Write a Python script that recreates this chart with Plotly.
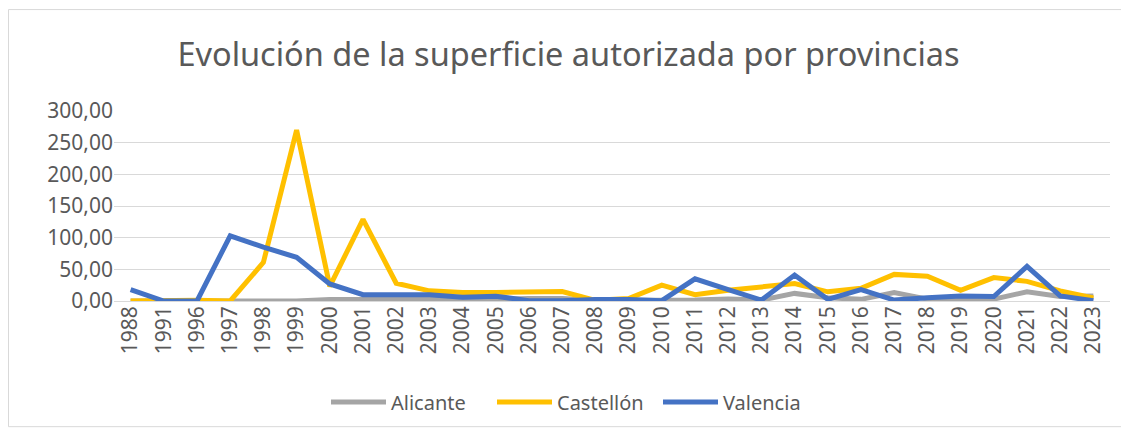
import plotly.graph_objects as go

years = ["1988", "1991", "1996", "1997", "1998", "1999", "2000", "2001", "2002", "2003",
         "2004", "2005", "2006", "2007", "2008", "2009", "2010", "2011", "2012", "2013",
         "2014", "2015", "2016", "2017", "2018", "2019", "2020", "2021", "2022", "2023"]

alicante = [0, 0, 0, 0, 0, 0, 2.5, 2.5, 1.5, 3,
            1.5, 2.5, 4, 4, 1, 1, 0, 1.5, 3, 1.5,
            12, 5, 2.6, 13.5, 3, 3, 3, 14.5, 7, 8]

castellon = [0, 1, 1, 0, 61, 270, 23, 129, 28, 16,
             13.5, 13.5, 15, 15, 1, 4, 25, 10, 17, 23,
             27.5, 14.5, 20, 42, 39, 17, 37, 31, 16, 5]

valencia = [18, 0, 0, 103, 85, 69, 27, 10, 10, 10,
            6, 7.5, 0.5, 0.5, 2.5, 2.5, 0.5, 35, 18, 1.5,
            41, 2.6, 18, 1.5, 5, 8, 7, 54.5, 8, 0.5]

series = [("Alicante", alicante, "#A5A5A5"),
          ("Castellón", castellon, "#FFC000"),
          ("Valencia", valencia, "#4472C4")]

FONT = "Noto Sans"
TXT = "#595959"

# page body has an 8px default margin; figure sized to fill the rest
W, H = 1121, 426
L, R, T, B = 106, 19, 103, 131
PW, PH = W - L - R, H - T - B

fig = go.Figure()
for name, vals, col in series:
    fig.add_trace(go.Scatter(x=years, y=vals, name=name, mode="lines",
                             line=dict(color=col, width=5)))

fig.update_layout(
    width=W, height=H,
    paper_bgcolor="white", plot_bgcolor="white",
    margin=dict(l=L, r=R, t=T, b=B),
    separators=",.",
    font=dict(family=FONT, size=21, color=TXT),
    title=dict(text="Evolución de la superficie autorizada por provincias",
               x=0.5, xanchor="center", y=1 - 47 / H, yanchor="middle",
               font=dict(family=FONT, size=32.5, color=TXT)),
    legend=dict(orientation="h", x=(318 - L) / PW, xanchor="left",
                y=(H - B - 397) / PH, yanchor="middle",
                font=dict(family=FONT, size=20, color=TXT), itemwidth=55,
                entrywidth=96, entrywidthmode="pixels",
                traceorder="normal"),
    showlegend=True,
)

fig.update_xaxes(type="category", tickangle=-90, showgrid=False, showline=False,
                 ticks="", tickfont=dict(family=FONT, size=21, color=TXT),
                 range=[-0.5, len(years) - 0.5])
fig.update_yaxes(range=[0, 300], dtick=50, tickformat=".2f", showgrid=True,
                 gridcolor="#D9D9D9", gridwidth=1.3, zeroline=True, zerolinecolor="#D9D9D9",
                 zerolinewidth=1.3, showline=False, ticks="",
                 tickfont=dict(family=FONT, size=21, color=TXT))

fig.add_shape(type="rect", xref="paper", yref="paper",
              x0=(0.5 - L) / PW, x1=(1116 - L) / PW,
              y0=(H - B - 422) / PH, y1=(H - B - 0.5) / PH,
              line=dict(color="#D9D9D9", width=1), fillcolor="rgba(0,0,0,0)", layer="below")

fig.write_html("out.html")
